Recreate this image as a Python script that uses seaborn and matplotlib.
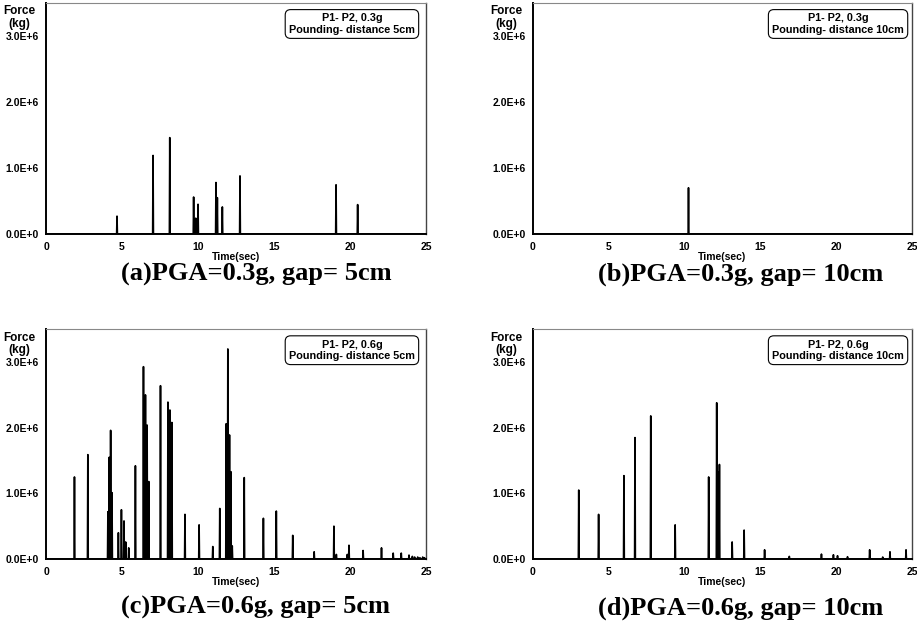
import numpy as np
import pandas as pd
import seaborn as sns
import matplotlib.pyplot as plt

# Spike times (s) and peak pounding force (x1E6 kg)
t_a = [4.67, 7.04, 8.14, 9.71, 9.85, 10.0, 11.18, 11.27, 11.6, 12.76, 19.08, 20.5]
f_a = [0.27, 1.19, 1.46, 0.56, 0.24, 0.45, 0.78, 0.55, 0.41, 0.88, 0.745, 0.445]

t_b = [10.26]
f_b = [0.70]

t_c = [1.87, 2.75, 4.07, 4.16, 4.25, 4.34, 4.76, 4.96, 5.13, 5.24, 5.44, 5.88,
       6.41, 6.54, 6.65, 6.76, 7.53, 8.02, 8.15, 8.28, 9.14, 10.07, 10.97,
       11.43, 11.85, 11.96, 12.07, 12.16, 12.25, 13.04, 14.3, 15.15, 16.23,
       17.64, 18.94, 19.1, 19.82, 19.93, 20.86, 22.07, 22.84, 23.37, 23.88,
       24.1, 24.25, 24.45, 24.6, 24.78, 24.9]
f_c = [1.25, 1.59, 0.72, 1.55, 1.96, 1.01, 0.40, 0.75, 0.58, 0.26, 0.17, 1.42,
       2.93, 2.50, 2.04, 1.18, 2.64, 2.39, 2.27, 2.08, 0.68, 0.52, 0.19,
       0.77, 2.06, 3.20, 1.89, 1.33, 0.20, 1.24, 0.62, 0.73, 0.36,
       0.11, 0.50, 0.07, 0.07, 0.21, 0.13, 0.17, 0.09, 0.09, 0.06,
       0.04, 0.03, 0.03, 0.02, 0.03, 0.02]

t_d = [3.02, 4.33, 6.0, 6.73, 7.77, 9.38, 11.59, 12.12, 12.21, 12.3, 13.14,
       13.93, 15.28, 16.91, 19.03, 19.82, 20.09, 20.75, 22.21, 23.07, 23.55, 24.61]
f_d = [1.05, 0.68, 1.27, 1.85, 2.18, 0.52, 1.25, 2.38, 1.32, 1.44, 0.26,
       0.44, 0.14, 0.04, 0.075, 0.065, 0.05, 0.035, 0.14, 0.03, 0.11, 0.14]

box_labels = ["P1- P2, 0.3g\nPounding- distance 5cm",
              "P1- P2, 0.3g\nPounding- distance 10cm",
              "P1- P2, 0.6g\nPounding- distance 5cm",
              "P1- P2, 0.6g\nPounding- distance 10cm"]
captions = ["(a)PGA=0.3g, gap= 5cm", "(b)PGA=0.3g, gap= 10cm",
            "(c)PGA=0.6g, gap= 5cm", "(d)PGA=0.6g, gap= 10cm"]


def pulse_frame(times, peaks, half=0.025):
    # turn each impact into a narrow triangular pulse on a zero baseline
    xs, ys = [0.0], [0.0]
    for t, p in zip(times, peaks):
        xs += [t - half, t, t + half]
        ys += [0.0, p * 1e6, 0.0]
    xs.append(25.0)
    ys.append(0.0)
    return pd.DataFrame({"time": xs, "force": ys})


sns.set_style("white")
plt.rcParams["font.family"] = ["Liberation Sans", "DejaVu Sans"]
plt.rcParams["text.color"] = "black"

fig = plt.figure(figsize=(9.17, 6.26), dpi=100)
rects = [[0.0502, 0.6262, 0.4144, 0.369],
         [0.5812, 0.6262, 0.4133, 0.369],
         [0.0502, 0.107, 0.4144, 0.367],
         [0.5812, 0.107, 0.4133, 0.367]]
data = [(t_a, f_a), (t_b, f_b), (t_c, f_c), (t_d, f_d)]
cap_pos = [(0.279, 0.562), (0.808, 0.562), (0.279, 0.029), (0.808, 0.029)]

for i in range(4):
    ax = fig.add_axes(rects[i])
    df = pulse_frame(*data[i])
    sns.lineplot(data=df, x="time", y="force", ax=ax, color="black",
                 linewidth=1.2, estimator=None, sort=False)
    ax.set_xlim(0, 25)
    ax.set_ylim(0, 3.5e6)
    ax.set_xticks([0, 5, 10, 15, 20, 25])
    ax.set_xticks(np.arange(0, 25.1, 2.5), minor=True)
    ax.set_yticks([0, 1e6, 2e6, 3e6])
    ax.set_yticks(np.arange(0, 3.5e6, 0.5e6), minor=True)
    ax.set_yticklabels(["0.0E+0", "1.0E+6", "2.0E+6", "3.0E+6"])
    ax.tick_params(which="both", direction="inout", labelsize=7.5,
                   colors="black", labelcolor="black", width=1, pad=2)
    ax.tick_params(axis="x", pad=3)
    ax.tick_params(which="major", length=6)
    ax.tick_params(which="minor", length=4)
    for lab in ax.get_xticklabels() + ax.get_yticklabels():
        lab.set_fontweight("bold")
    for s in ["left", "bottom"]:
        ax.spines[s].set_color("black")
        ax.spines[s].set_linewidth(1.4)
    ax.spines["top"].set_color("#888888")
    ax.spines["top"].set_linewidth(0.8)
    ax.spines["right"].set_color("#444444")
    ax.spines["right"].set_linewidth(1.0)
    ax.set_ylabel("")
    ax.set_xlabel("Time(sec)", fontsize=7.5, fontweight="bold", labelpad=0,
                  color="black")
    ax.text(-0.07, 0.99, "Force\n(kg)", transform=ax.transAxes, ha="center",
            va="top", fontsize=8.5, fontweight="bold", linespacing=1.05,
            color="black")
    ax.text(0.805, 0.955, box_labels[i], transform=ax.transAxes, ha="center",
            va="top", fontsize=7.8, fontweight="bold", linespacing=1.15,
            color="black",
            bbox=dict(boxstyle="round,pad=0.35,rounding_size=0.5",
                      fc="white", ec="black", lw=0.8))
    fig.text(cap_pos[i][0], cap_pos[i][1], captions[i], ha="center",
             va="center", fontsize=19, fontweight="bold", color="black",
             family=["Liberation Serif", "DejaVu Serif"])

fig.savefig("out.png", dpi=100)
